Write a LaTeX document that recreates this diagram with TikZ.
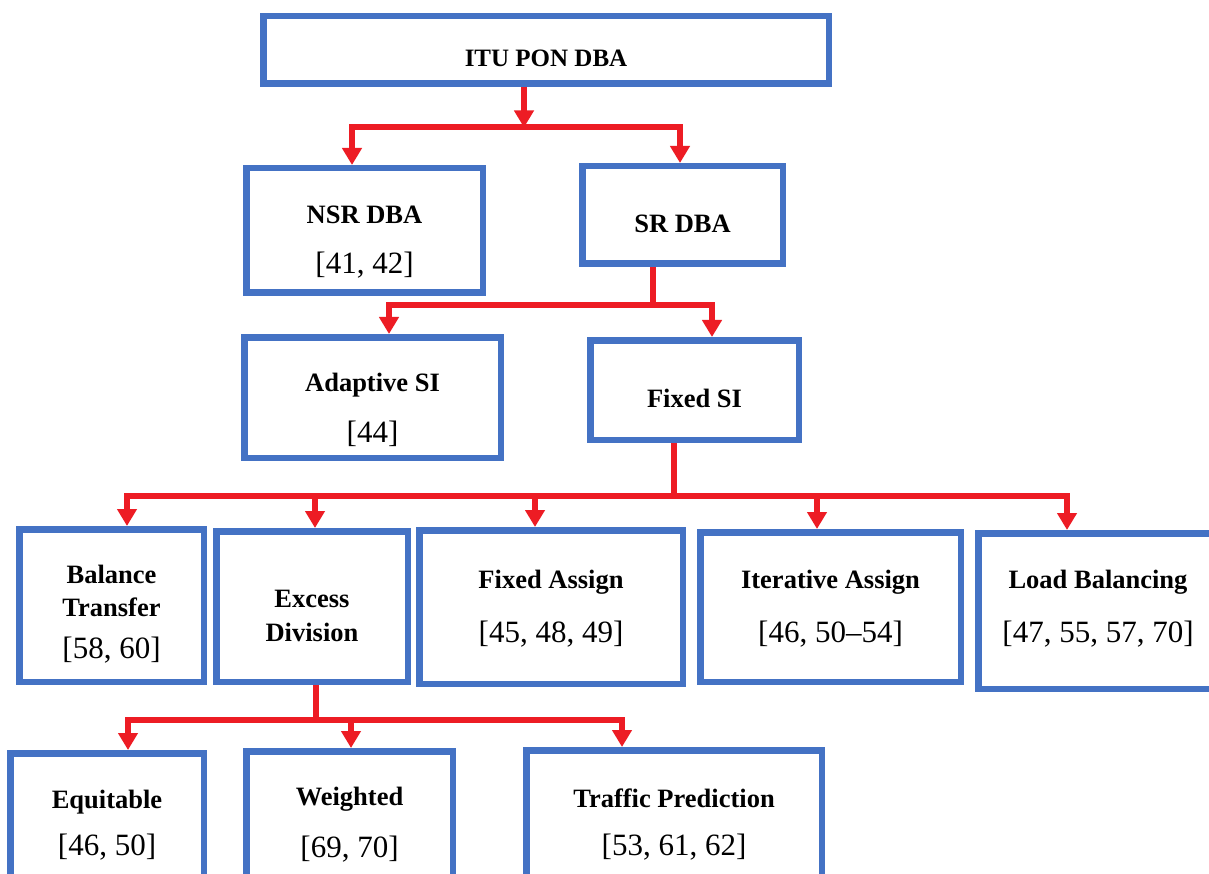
\documentclass[tikz,border=0pt]{standalone}
\usepackage{fontspec}
\setmainfont{Liberation Serif}
\usetikzlibrary{arrows.meta}
\definecolor{boxblue}{RGB}{68,114,196}
\definecolor{linered}{RGB}{237,28,36}
\tikzset{
  box/.style={draw=boxblue, line width=6.5pt, rectangle, inner sep=0pt},
  conn/.style={draw=linered, line width=6pt, line join=miter},
  tipped/.style={-{Triangle[width=19pt,length=17pt]}},
  bothtipped/.style={{Triangle[width=19pt,length=17pt]}-{Triangle[width=19pt,length=17pt]}},
  head/.style={font=\fontsize{26.5}{30}\selectfont\bfseries, inner sep=0pt, anchor=base},
  headtop/.style={font=\fontsize{25}{30}\selectfont\bfseries, inner sep=0pt, anchor=base},
  refs/.style={font=\fontsize{31}{36}\selectfont, inner sep=0pt, anchor=base}
}
\begin{document}
\begin{tikzpicture}[x=1pt,y=-1pt]
\useasboundingbox (0,0) rectangle (1209,874);
\fill[white] (0,0) rectangle (1209,874);
\clip (0,0) rectangle (1209,874);

% boxes
\node[box, minimum width=565.5pt, minimum height=67.5pt] (itu) at (546,50) {};
\node[box, minimum width=236.5pt, minimum height=124.5pt] (nsr) at (364.5,230.5) {};
\node[box, minimum width=200.5pt, minimum height=97.5pt] (sr) at (682.5,215) {};
\node[box, minimum width=256.5pt, minimum height=120.5pt] (adsi) at (372.5,397.5) {};
\node[box, minimum width=208.5pt, minimum height=99.5pt] (fxsi) at (694.5,390) {};
\node[box, minimum width=184.5pt, minimum height=152.5pt] (bal) at (111.5,605.5) {};
\node[box, minimum width=191.5pt, minimum height=150.5pt] (exc) at (312,606.5) {};
\node[box, minimum width=263.5pt, minimum height=153.5pt] (fxa) at (551,607) {};
\node[box, minimum width=260.5pt, minimum height=149.5pt] (ita) at (830.5,607) {};
\node[box, minimum width=239.5pt, minimum height=155.5pt] (lb) at (1098,611) {};
\node[box, minimum width=193.5pt, minimum height=143.5pt] (eq) at (107,825) {};
\node[box, minimum width=206.5pt, minimum height=145.5pt] (wt) at (349.5,824) {};
\node[box, minimum width=295.5pt, minimum height=146.5pt] (tp) at (674,823.5) {};

% texts
\node[headtop] (itu-t) at (546,67) {ITU PON DBA};
\node[head] (nsr-t) at (364.5,224) {NSR DBA};
\node[refs] (nsr-r) at (364.5,274) {[41, 42]};
\node[head] (sr-t) at (682.5,233) {SR DBA};
\node[head] (adsi-t) at (372.5,391) {Adaptive SI};
\node[refs] (adsi-r) at (372.5,442) {[44]};
\node[head] (fxsi-t) at (694.5,407) {Fixed SI};
\node[head] (bal-t1) at (111.5,583) {Balance};
\node[head] (bal-t2) at (111.5,616) {Transfer};
\node[refs] (bal-r) at (111.5,658) {[58, 60]};
\node[head] (exc-t1) at (312,607) {Excess};
\node[head] (exc-t2) at (312,641) {Division};
\node[head] (fxa-t) at (551,588) {Fixed Assign};
\node[refs] (fxa-r) at (551,642) {[45, 48, 49]};
\node[head] (ita-t) at (830.5,588) {Iterative Assign};
\node[refs] (ita-r) at (830.5,642) {[46, 50--54]};
\node[head] (lb-t) at (1098,588) {Load Balancing};
\node[refs] (lb-r) at (1098,642) {[47, 55, 57, 70]};
\node[head] (eq-t) at (107,808) {Equitable};
\node[refs] (eq-r) at (107,855) {[46, 50]};
\node[head] (wt-t) at (349.5,805) {Weighted};
\node[refs] (wt-r) at (349.5,857) {[69, 70]};
\node[head] (tp-t) at (674,807) {Traffic Prediction};
\node[refs] (tp-r) at (674,855) {[53, 61, 62]};

% junction coordinates
\coordinate (j1) at (524,127.5);
\coordinate (l1) at (352,127.5);
\coordinate (r1) at (680,127.5);
\coordinate (j2) at (653,305);
\coordinate (l2) at (389,305);
\coordinate (r2) at (712,305);
\coordinate (j3) at (674,496);
\coordinate (l3) at (127,496);
\coordinate (r3) at (1067,496);
\coordinate (m3a) at (315,496);
\coordinate (m3b) at (535,496);
\coordinate (m3c) at (817,496);
\coordinate (j4) at (316,720);
\coordinate (l4) at (128,720);
\coordinate (r4) at (622,720);
\coordinate (m4) at (351,720);

% connectors
\draw[conn, tipped] (j1 |- itu.south) -- (j1);
\draw[conn, bothtipped] (l1 |- nsr.north) -- (l1) -- (r1) -- (r1 |- sr.north);

\draw[conn] (j2 |- sr.south) -- (j2);
\draw[conn, bothtipped] (l2 |- adsi.north) -- (l2) -- (r2) -- (r2 |- fxsi.north);

\draw[conn] (j3 |- fxsi.south) -- (j3);
\draw[conn, bothtipped] (l3 |- bal.north) -- (l3) -- (r3) -- (r3 |- lb.north);
\draw[conn, tipped] (m3a) -- (m3a |- exc.north);
\draw[conn, tipped] (m3b) -- (m3b |- fxa.north);
\draw[conn, tipped] (m3c) -- (m3c |- ita.north);

\draw[conn] (j4 |- exc.south) -- (j4);
\draw[conn, bothtipped] (l4 |- eq.north) -- (l4) -- (r4) -- (r4 |- tp.north);
\draw[conn, tipped] (m4) -- (m4 |- wt.north);
\end{tikzpicture}
\end{document}
